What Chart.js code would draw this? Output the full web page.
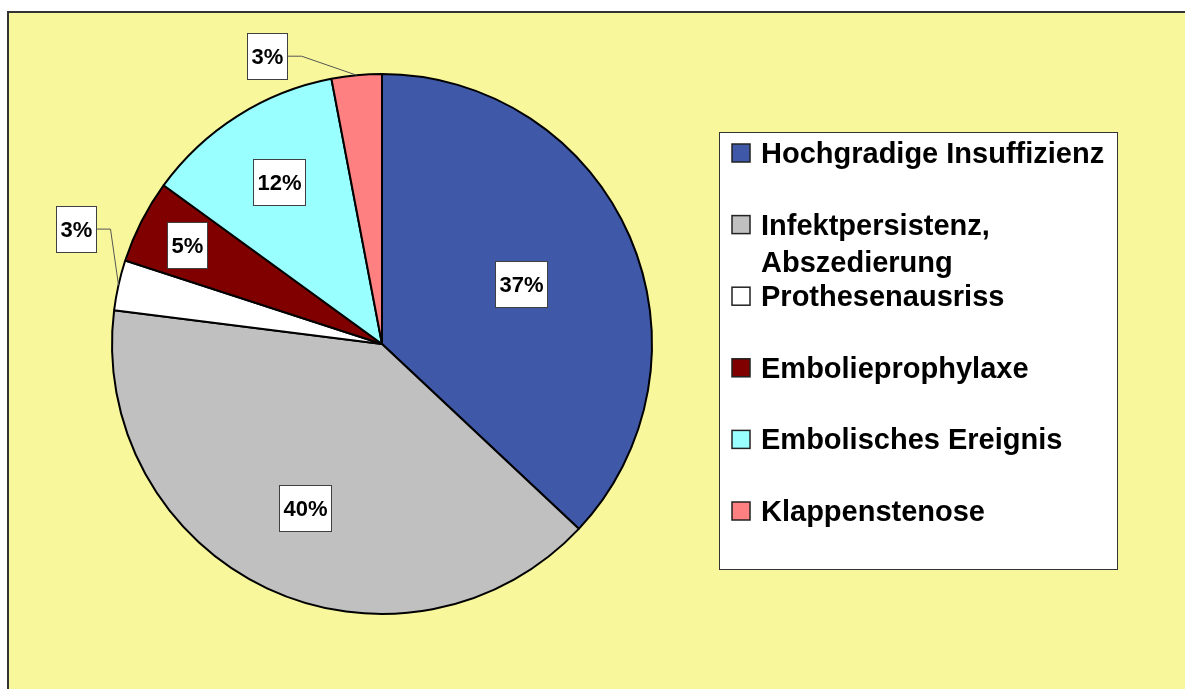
<!DOCTYPE html>
<html>
<head>
<meta charset="utf-8">
<script src="https://cdn.jsdelivr.net/npm/chart.js@4.4.0/dist/chart.umd.min.js"></script>
<style>
  body { margin: 0; background: #fff; overflow: hidden; }
  .frame { position: absolute; left: 7px; top: 11px; width: 1300px; height: 800px;
           border: 2px solid #333; background: #F9F79B; }
  #myChart { position: absolute; left: 0; top: 0; }
</style>
</head>
<body>
<div class="frame"></div>
<canvas id="myChart" width="1185" height="689"></canvas>
<script>
const labels = ['Hochgradige Insuffizienz', ['Infektpersistenz,', 'Abszedierung'], 'Prothesenausriss',
                'Embolieprophylaxe', 'Embolisches Ereignis', 'Klappenstenose'];
const values = [37, 40, 3, 5, 12, 3];
const colors = ['#3F58A8', '#C0C0C0', '#FFFFFF', '#800000', '#99FFFF', '#FF8080'];

// where each % box goes: r = fraction of radius inside, dx/dy = offset from rim (with leader line)
const labelPos = [{r: 0.56}, {r: 0.67}, {dx: -43, dy: -56}, {r: 0.81}, {r: 0.71}, {dx: -90, dy: -19}];
const FONT = '"Liberation Sans", Arial, sans-serif';

const pctLabels = {
    id: 'pctLabels',
    afterDatasetsDraw(chart) {
        const c = chart.ctx;
        const ds = chart.data.datasets[0];
        const total = ds.data.reduce((a, b) => a + b, 0);
        c.save();
        c.font = 'bold 22px ' + FONT;
        c.textAlign = 'center';
        c.textBaseline = 'middle';
        chart.getDatasetMeta(0).data.forEach((arc, i) => {
            const {x, y, startAngle, endAngle, outerRadius} =
                arc.getProps(['x', 'y', 'startAngle', 'endAngle', 'outerRadius'], true);
            const mid = (startAngle + endAngle) / 2;
            const p = labelPos[i];
            const txt = Math.round(ds.data[i] / total * 100) + '%';
            const w = Math.round(c.measureText(txt).width + 8), h = 46;
            let lx, ly;
            if (p.r) {
                lx = x + Math.cos(mid) * outerRadius * p.r;
                ly = y + Math.sin(mid) * outerRadius * p.r;
            } else {
                const ex = x + Math.cos(mid) * outerRadius;
                const ey = y + Math.sin(mid) * outerRadius;
                lx = ex + p.dx;
                ly = ey + p.dy;
                c.strokeStyle = '#555';
                c.lineWidth = 1;
                c.beginPath();
                c.moveTo(lx + w / 2, ly);
                c.lineTo(lx + w / 2 + 15, ly);
                c.lineTo(ex, ey);
                c.stroke();
            }
            const bx = Math.round(lx - w / 2) + 0.5, by = Math.round(ly - h / 2) + 0.5;
            c.fillStyle = '#fff';
            c.fillRect(bx, by, w, h);
            c.strokeStyle = '#404040';
            c.lineWidth = 1;
            c.strokeRect(bx, by, w, h);
            c.fillStyle = '#000';
            c.fillText(txt, bx + w / 2, by + h / 2 + 1);
        });
        c.restore();
    }
};

const sideLegend = {
    id: 'sideLegend',
    afterDraw(chart) {
        const c = chart.ctx;
        const ds = chart.data.datasets[0];
        c.save();
        c.fillStyle = '#fff';
        c.fillRect(719.5, 132.5, 398, 437);
        c.strokeStyle = '#333';
        c.lineWidth = 1;
        c.strokeRect(719.5, 132.5, 398, 437);
        c.font = 'bold 29px ' + FONT;
        c.textAlign = 'left';
        c.textBaseline = 'alphabetic';
        chart.data.labels.forEach((lab, i) => {
            const cy = 153 + i * 71.6;
            c.fillStyle = ds.backgroundColor[i];
            c.fillRect(732, cy - 9, 18, 18);
            c.strokeStyle = '#222';
            c.lineWidth = 1.5;
            c.strokeRect(732, cy - 9, 18, 18);
            c.fillStyle = '#000';
            const lines = Array.isArray(lab) ? lab : [lab];
            lines.forEach((t, k) => c.fillText(t, 761, cy + 10 + k * 37));
        });
        c.restore();
    }
};

const ctx = document.getElementById('myChart').getContext('2d');
const myChart = new Chart(ctx, {
    type: 'pie',
    data: {
        labels: labels,
        datasets: [{
            data: values,
            backgroundColor: colors,
            borderColor: '#000',
            borderWidth: 2
        }]
    },
    options: {
        responsive: false,
        animation: false,
        layout: { padding: { left: 111, top: 73, right: 532, bottom: 74 } },
        plugins: {
            legend: false,
            tooltip: { enabled: false }
        }
    },
    plugins: [pctLabels, sideLegend]
});
</script>
</body>
</html>
